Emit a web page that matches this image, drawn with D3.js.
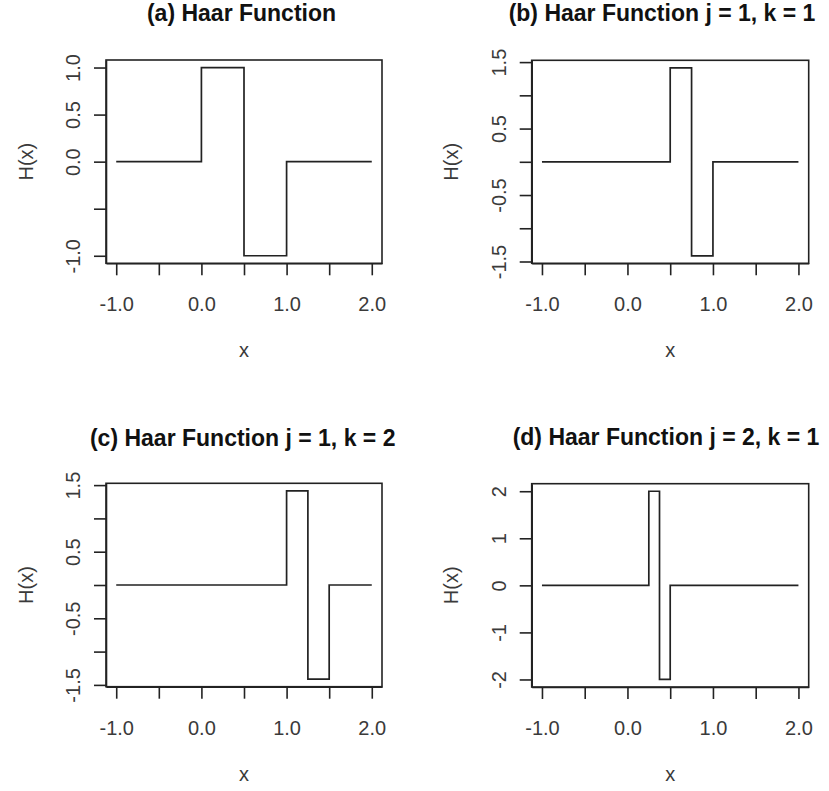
<!DOCTYPE html>
<html>
<head>
<meta charset="utf-8">
<script src="https://cdn.jsdelivr.net/npm/d3@7"></script>
<style>
  html, body { margin: 0; padding: 0; background: #fff; }
  svg { display: block; }
  text { font-family: "Liberation Sans", Arial, Helvetica, sans-serif; }
</style>
</head>
<body>
<svg id="chart" width="829" height="791"></svg>
<script>
// Haar step functions: breakpoints along x and the level held on each interval
const xMother = [-1, 0, 0.5, 1, 2];
const hMother = [0, 1, -1, 0];

const xJ1K1 = [-1, 0.5, 0.75, 1, 2];
const hJ1K1 = [0, 1.414, -1.414, 0];

const xJ1K2 = [-1, 1, 1.25, 1.5, 2];
const hJ1K2 = [0, 1.414, -1.414, 0];

const xJ2K1 = [-1, 0.25, 0.375, 0.5, 2];
const hJ2K1 = [0, 2, -2, 0];

// Panel titles
const titles = [
  "(a) Haar Function",
  "(b) Haar Function j = 1, k = 1",
  "(c) Haar Function j = 1, k = 2",
  "(d) Haar Function j = 2, k = 1"
];

// Axis ticks and their labels (empty label = tick without text)
const xTicks = [-1, -0.5, 0, 0.5, 1, 1.5, 2];
const xTickLabels = ["-1.0", "", "0.0", "", "1.0", "", "2.0"];

const yTicksA = [-1, -0.5, 0, 0.5, 1];
const yTickLabelsA = ["-1.0", "", "0.0", "0.5", "1.0"];

const yTicksBC = [-1.5, -1, -0.5, 0, 0.5, 1, 1.5];
const yTickLabelsBC = ["-1.5", "", "-0.5", "", "0.5", "", "1.5"];

const yTicksD = [-2, -1, 0, 1, 2];
const yTickLabelsD = ["-2", "-1", "0", "1", "2"];

const xAxisTitle = "x";
const yAxisTitle = "H(x)";

// Layout of the four plot boxes
const panels = [
  { xs: xMother, hs: hMother, title: titles[0], yt: yTicksA,  yl: yTickLabelsA,
    left: 106,   right: 382,   top: 60,    bottom: 263.3, tx: 241.5, ty: 21 },
  { xs: xJ1K1,  hs: hJ1K1,  title: titles[1], yt: yTicksBC, yl: yTickLabelsBC,
    left: 531.7, right: 808.7, top: 60.3,  bottom: 263.3, tx: 662,   ty: 21 },
  { xs: xJ1K2,  hs: hJ1K2,  title: titles[2], yt: yTicksBC, yl: yTickLabelsBC,
    left: 106,   right: 382,   top: 483.3, bottom: 686.7, tx: 242.7, ty: 446 },
  { xs: xJ2K1,  hs: hJ2K1,  title: titles[3], yt: yTicksD,  yl: yTickLabelsD,
    left: 531.7, right: 808.7, top: 483.7, bottom: 687,   tx: 666,   ty: 445 }
];

const svg = d3.select("#chart");
svg.append("rect").attr("width", 829).attr("height", 791).attr("fill", "#fff");

const ink = "#222";
const labelInk = "#3a3a3a";
const fs = 20;

// Extend a range by 4% on each side
function padded(ext) {
  const d = (ext[1] - ext[0]) * 0.04;
  return [ext[0] - d, ext[1] + d];
}

panels.forEach(p => {
  const g = svg.append("g");

  const x = d3.scaleLinear()
    .domain(padded(d3.extent(p.xs)))
    .range([p.left, p.right]);
  const y = d3.scaleLinear()
    .domain(padded(d3.extent(p.hs)))
    .range([p.bottom, p.top]);

  // step path points
  const pts = [];
  p.hs.forEach((h, i) => {
    pts.push([p.xs[i], h]);
    pts.push([p.xs[i + 1], h]);
  });
  const line = d3.line().x(d => x(d[0])).y(d => y(d[1]));
  g.append("path")
    .attr("d", line(pts))
    .attr("fill", "none")
    .attr("stroke", ink)
    .attr("stroke-width", 1.7)
    .attr("stroke-linejoin", "miter");

  // box
  g.append("rect")
    .attr("x", p.left).attr("y", p.top)
    .attr("width", p.right - p.left).attr("height", p.bottom - p.top)
    .attr("fill", "none").attr("stroke", ink).attr("stroke-width", 1.6);

  // x axis
  const xa = g.append("g")
    .attr("transform", `translate(0,${p.bottom})`)
    .call(d3.axisBottom(x).tickValues(xTicks)
      .tickFormat((d, i) => xTickLabels[i]).tickSize(12).tickSizeOuter(0));
  xa.select(".domain").attr("stroke", ink).attr("stroke-width", 1.6);
  xa.selectAll(".tick line").attr("stroke", ink).attr("stroke-width", 1.6);
  xa.selectAll(".tick text")
    .attr("y", 48).attr("dy", null)
    .attr("font-size", fs).attr("fill", labelInk)
    .attr("font-family", "Liberation Sans, Arial, sans-serif");

  // y axis
  const ya = g.append("g")
    .attr("transform", `translate(${p.left},0)`)
    .call(d3.axisLeft(y).tickValues(p.yt)
      .tickFormat((d, i) => p.yl[i]).tickSize(12).tickSizeOuter(0));
  ya.select(".domain").attr("stroke", ink).attr("stroke-width", 1.6);
  ya.selectAll(".tick line").attr("stroke", ink).attr("stroke-width", 1.6);
  ya.selectAll(".tick text")
    .attr("x", null).attr("dy", "0.36em")
    .attr("transform", "translate(-33,0) rotate(-90)")
    .attr("text-anchor", "middle")
    .attr("font-size", fs).attr("fill", labelInk)
    .attr("font-family", "Liberation Sans, Arial, sans-serif");

  // axis titles
  const cx = (p.left + p.right) / 2;
  const cy = (p.top + p.bottom) / 2;
  g.append("text")
    .attr("x", cx).attr("y", p.bottom + 88.5).attr("dy", "0.27em")
    .attr("text-anchor", "middle")
    .attr("font-size", fs).attr("fill", labelInk)
    .text(xAxisTitle);
  g.append("text")
    .attr("transform", `translate(${p.left - 80.5},${cy}) rotate(-90)`)
    .attr("dy", "0.36em")
    .attr("text-anchor", "middle")
    .attr("font-size", fs).attr("fill", labelInk)
    .text(yAxisTitle);

  // panel title
  g.append("text")
    .attr("x", p.tx).attr("y", p.ty)
    .attr("text-anchor", "middle")
    .attr("font-size", 23).attr("font-weight", "bold").attr("fill", "#111")
    .text(p.title);
});
</script>
</body>
</html>
